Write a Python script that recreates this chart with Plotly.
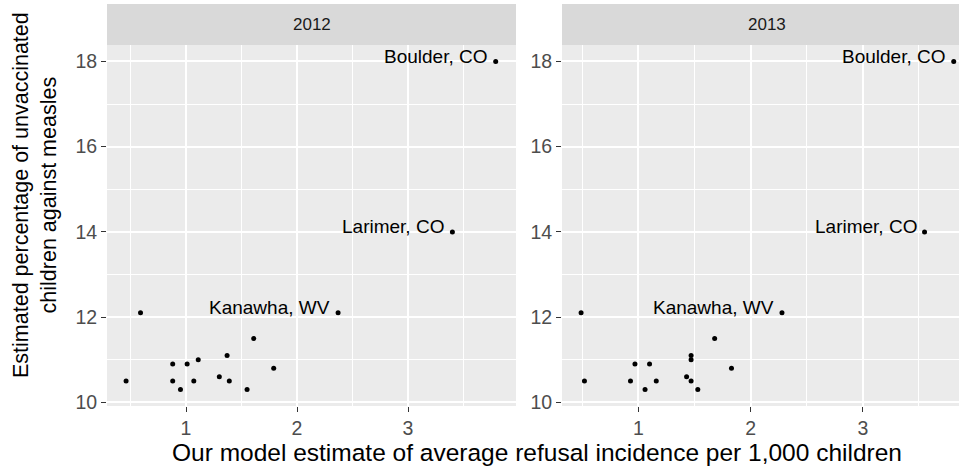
import plotly.graph_objects as go

W, H = 959, 467

years = ["2012", "2013"]
x_2012 = [0.46, 0.59, 0.88, 0.88, 0.95, 1.01, 1.07, 1.11, 1.30, 1.37, 1.39, 1.55, 1.61, 1.79, 2.37, 3.40, 3.79]
y_2012 = [10.5, 12.1, 10.9, 10.5, 10.3, 10.9, 10.5, 11.0, 10.6, 11.1, 10.5, 10.3, 11.5, 10.8, 12.1, 14.0, 18.0]
x_2013 = [0.49, 0.52, 0.93, 0.97, 1.06, 1.10, 1.16, 1.43, 1.47, 1.47, 1.47, 1.53, 1.68, 1.83, 2.28, 3.55, 3.81]
y_2013 = [12.1, 10.5, 10.5, 10.9, 10.3, 10.9, 10.5, 10.6, 10.5, 11.0, 11.1, 10.3, 11.5, 10.8, 12.1, 14.0, 18.0]
labels = [""] * 14 + ["Kanawha, WV", "Larimer, CO", "Boulder, CO"]

x_ticks = [1, 2, 3]
y_ticks = [10, 12, 14, 16, 18]

x_title = "Our model estimate of average refusal incidence per 1,000 children"
y_title = "Estimated percentage of unvaccinated<br>children against measles"

FONT = "Liberation Sans, Arial, sans-serif"

def px_x(p):
    return p / W

def px_y(p):
    return 1 - p / H

fig = go.Figure()
data = [(x_2012, y_2012), (x_2013, y_2013)]
axes = [("x", "y"), ("x2", "y2")]
for (xs, ys), (xa, ya) in zip(data, axes):
    fig.add_trace(go.Scatter(x=xs, y=ys, mode="markers", xaxis=xa, yaxis=ya,
                             marker=dict(color="black", size=5), showlegend=False,
                             hoverinfo="skip", cliponaxis=False))
    for xv, yv, lab in zip(xs, ys, labels):
        if lab:
            fig.add_annotation(x=xv, y=yv, xref=xa, yref=ya, text=lab, showarrow=False,
                               xanchor="right", yanchor="bottom", xshift=-6, yshift=-7.5,
                               font=dict(family=FONT, size=19, color="black"))

y_dom = [px_y(406), px_y(45)]
x_doms = [[px_x(107), px_x(516)], [px_x(562), 1.0]]
x_ranges = [[0.288, 3.973], [0.32, 3.857]]
y_range = [9.915, 18.385]

common_axis = dict(showline=False, zeroline=False, ticks="outside", ticklen=5,
                   tickcolor="#333333", tickwidth=1.1, showgrid=True,
                   gridcolor="white", gridwidth=1.6, automargin=False,
                   tickfont=dict(family=FONT, size=19.5, color="#4D4D4D"))

for i, name in enumerate(["xaxis", "xaxis2"]):
    fig.layout[name] = dict(domain=x_doms[i], range=x_ranges[i], tickvals=x_ticks,
                            anchor="y" if i == 0 else "y2",
                            minor=dict(dtick=0.5, tick0=0, showgrid=True, gridcolor="white",
                                       gridwidth=0.8, ticklen=0),
                            **common_axis)
for i, name in enumerate(["yaxis", "yaxis2"]):
    fig.layout[name] = dict(domain=y_dom, range=y_range, tickvals=y_ticks,
                            anchor="x" if i == 0 else "x2",
                            minor=dict(dtick=1, tick0=0, showgrid=True, gridcolor="white",
                                       gridwidth=0.8, ticklen=0),
                            **common_axis)

# facet strips
strip_centers = [(107 + 516) / 2, (562 + 971) / 2]
for i, xa in enumerate(["x", "x2"]):
    fig.add_shape(type="rect", xref=f"{xa} domain", yref="paper", x0=0, x1=1,
                  y0=px_y(45), y1=px_y(4), fillcolor="#D9D9D9", line=dict(width=0),
                  layer="below")
    fig.add_annotation(x=px_x(strip_centers[i]), y=px_y(24.5), xref="paper", yref="paper",
                       text=years[i], showarrow=False, xanchor="center", yanchor="middle",
                       font=dict(family=FONT, size=17, color="#1A1A1A"))

fig.add_annotation(x=px_x(537), y=px_y(452), xref="paper", yref="paper", text=x_title,
                   showarrow=False, xanchor="center", yanchor="middle",
                   font=dict(family=FONT, size=24.5, color="black"))
fig.add_annotation(x=px_x(35), y=px_y(195), xref="paper", yref="paper", text=y_title,
                   showarrow=False, xanchor="center", yanchor="middle", textangle=-90,
                   font=dict(family=FONT, size=21.5, color="black"))

fig.update_layout(width=W, height=H, margin=dict(l=0, r=0, t=0, b=0, pad=0),
                  paper_bgcolor="white", plot_bgcolor="#EBEBEB",
                  font=dict(family=FONT))

fig.write_html("out.html", config={"displayModeBar": False},
               post_script="document.body.style.margin='0';document.body.style.padding='0';document.body.style.overflow='hidden';")
